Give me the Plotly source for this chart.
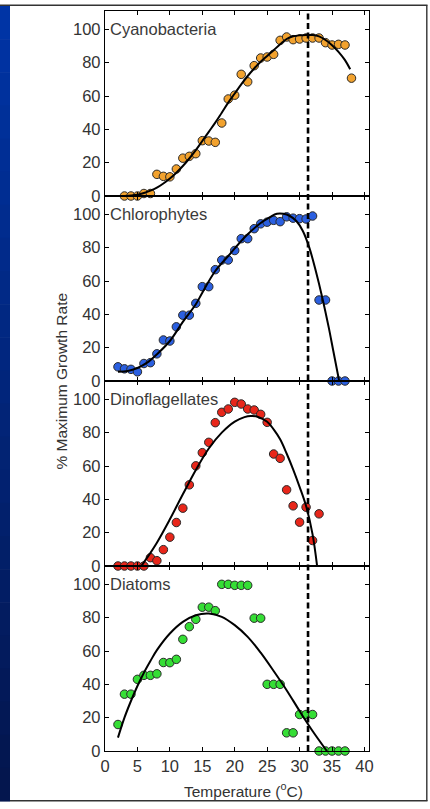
import plotly.graph_objects as go
from plotly.subplots import make_subplots

# ---------------- data ----------------
panel_names = ["Cyanobacteria", "Chlorophytes", "Dinoflagellates", "Diatoms"]

cyano_T = [3, 4, 5, 6, 7, 8, 9, 10, 11, 12, 13, 14, 15, 16, 17, 18, 19, 20, 21, 22,
           23, 24, 25, 26, 27, 28, 29, 30, 31, 32, 33, 34, 35, 36, 37, 38]
cyano_v = [0, 0, 0, 1.5, 1.5, 13, 11.8, 11.5, 16.2, 22.7, 23.8, 25.4, 33.2, 33, 32.2,
           43.8, 58.2, 60.5, 73, 68.5, 78.2, 82.8, 83.4, 85, 93.4, 95.4, 93.8, 94.2,
           94.8, 94.8, 94.8, 92, 90.6, 91, 90.6, 70.7]
cyano_fit_T = [3, 4, 5, 6, 7, 8, 9, 10, 11, 12, 13, 14, 15, 16, 17, 18, 19, 20, 21, 22,
               23, 24, 25, 26, 27, 28, 29, 30, 31, 32, 33, 34, 35, 36, 37, 37.8]
cyano_fit_v = [0, 0.3, 0.8, 1.8, 3.2, 5, 7.5, 10.5, 14, 18, 22.5, 27.5, 33, 38.5, 44,
               50, 56, 61.5, 67, 72, 76.5, 80.5, 84, 87.5, 91, 94.2, 95.8, 96.4, 96.6,
               96.6, 95.8, 93.6, 90.5, 86.5, 81.5, 76]

chloro_T = [2, 3, 4, 5, 6, 7, 8, 9, 10, 11, 12, 13, 14, 15, 16, 17, 18, 19, 20, 21,
            22, 23, 24, 25, 26, 27, 28, 29, 30, 31, 32, 33, 34, 35, 36, 37]
chloro_v = [8.5, 7.3, 7, 5.5, 10.5, 11, 16.3, 24.6, 24, 32.5, 39.5, 39.5, 46.6, 56.6,
            56.6, 66.8, 72.6, 72.6, 78.3, 85.4, 85.4, 91.4, 94.3, 95.3, 96.4, 95.6,
            98.5, 97.7, 97.4, 97.2, 99, 48.6, 48.6, 0, 0, 0]
chloro_fit_T = [2, 3.5, 5, 6.5, 8, 10, 12, 14, 15, 17, 19, 20, 22, 24, 25.5, 26.5,
                27.5, 28.5, 29.5, 30.5, 31.5, 32.5, 33.5, 34.5, 35.2, 36.1]
chloro_fit_v = [5.5, 6, 7.8, 11, 16, 24, 35.5, 46, 53, 66, 75, 79.6, 88, 94.8, 98.5,
                100.3, 100.3, 99, 96, 90, 80, 66, 50, 32, 18, 0]

dino_T = [2, 3, 4, 5, 6, 7, 8, 9, 10, 11, 12, 13, 14, 15, 16, 17, 18, 19, 20, 21,
          22, 23, 24, 25, 26, 27, 28, 29, 30, 31, 32, 33]
dino_v = [0, 0, 0, 0, 0, 5, 3.2, 9.8, 17.3, 26.1, 34.7, 48.7, 60.1, 68, 74.2, 86,
          92.2, 94.2, 98.2, 97.2, 94.2, 93.6, 91, 86.2, 67.2, 64.6, 45.7, 36.1, 26.3,
          35.3, 15.3, 31.3]
dino_fit_T = [5.6, 6.5, 8, 10, 12, 14, 16, 18, 20, 21.5, 22.5, 23.5, 25, 26, 27, 28,
              29, 30, 31, 32, 32.7]
dino_fit_v = [0, 5, 14, 28, 43, 57.6, 70.5, 80, 86.6, 89.3, 90, 89.6, 86.5, 82, 76,
              67.5, 58, 47.5, 36, 19, 0]

diatom_T = [2, 3, 4, 5, 6, 7, 8, 9, 10, 11, 12, 13, 14, 15, 16, 17, 18, 19, 20, 21,
            22, 23, 24, 25, 26, 27, 28, 29, 30, 31, 32, 33, 34, 35, 36, 37]
diatom_v = [15.9, 34.1, 34.1, 43, 45.4, 45.4, 46.3, 53.1, 53, 55, 67, 74.6, 79, 86.3,
            86.3, 84.2, 100, 100, 99.4, 99.4, 99.4, 79.7, 79.7, 40, 40, 40, 10.9, 10.9,
            21.9, 21.9, 21.9, 0, 0, 0, 0, 0]
diatom_fit_T = [2, 3, 4, 5, 6, 7, 8, 10, 12, 14, 16, 18, 20, 22, 24, 26, 28, 30, 32,
                34.2]
diatom_fit_v = [8, 20, 30, 39, 47, 54, 60.5, 70.5, 77.5, 81.5, 82.5, 80.5, 75.5, 68.5,
                59, 48, 36.5, 24, 12, 0]

threshold_T = 31.3          # dashed vertical reference line
x_ticks = [0, 5, 10, 15, 20, 25, 30, 35, 40]
y_ticks = [0, 20, 40, 60, 80, 100]

# ---------------- style ----------------
W, H = 430, 809
ML, MR, MT, MB = 105, 61, 11, 58
colors = ["#F2A22E", "#2A5FE0", "#E8261A", "#35DE35"]
FONT = "Liberation Sans, Arial, sans-serif"
TXT = "#333333"

series = [
    (cyano_T, cyano_v, cyano_fit_T, cyano_fit_v),
    (chloro_T, chloro_v, chloro_fit_T, chloro_fit_v),
    (dino_T, dino_v, dino_fit_T, dino_fit_v),
    (diatom_T, diatom_v, diatom_fit_T, diatom_fit_v),
]

fig = make_subplots(rows=4, cols=1, shared_xaxes=True, vertical_spacing=0)

for i, (tx, vy, fx, fy) in enumerate(series):
    r = i + 1
    fig.add_trace(go.Scatter(
        x=tx, y=vy, mode="markers", cliponaxis=False, showlegend=False,
        marker=dict(size=8.5, color=colors[i], line=dict(color="#2a2a2a", width=1))),
        row=r, col=1)
    fig.add_trace(go.Scatter(
        x=fx, y=fy, mode="lines", showlegend=False,
        line=dict(color="black", width=2, shape="spline")),
        row=r, col=1)
    fig.add_annotation(x=0.5, y=100, xref=f"x{'' if r == 1 else r}",
                       yref=f"y{'' if r == 1 else r}", text=panel_names[i],
                       showarrow=False, xanchor="left", yanchor="middle",
                       font=dict(family=FONT, size=16.5, color="#3a3a3a"))

fig.update_xaxes(range=[0, 40.7], tickvals=x_ticks, ticks="inside", ticklen=4,
                 tickwidth=1, tickcolor="black", mirror="allticks", showline=True,
                 linecolor="black", linewidth=1.3, showgrid=False, zeroline=False,
                 tickfont=dict(family=FONT, size=16.5, color=TXT))
fig.update_yaxes(range=[0, 111], tickvals=y_ticks, ticks="inside", ticklen=4,
                 tickwidth=1, tickcolor="black", mirror="allticks", showline=True,
                 linecolor="black", linewidth=1.3, showgrid=False, zeroline=False,
                 tickfont=dict(family=FONT, size=16.5, color=TXT))

# dashed reference line over all panels
fig.add_shape(type="line", xref="x", yref="paper", x0=threshold_T, x1=threshold_T,
              y0=0, y1=1, line=dict(color="black", width=2.6, dash="6px,3.5px"))

# ---------- frame (slide background) in pixel -> paper coords ----------
PW, PH = W - ML - MR, H - MT - MB
def px(x):
    return (x - ML) / PW
def py(y):
    return (H - MB - y) / PH

n_strips = 24
top, bot = 6, 801
c0, c1 = (0, 52, 165), (4, 22, 78)
for k in range(n_strips):
    f = k / (n_strips - 1)
    c = tuple(int(c0[j] + (c1[j] - c0[j]) * f) for j in range(3))
    ya = top + (bot - top) * k / n_strips
    yb = top + (bot - top) * (k + 1) / n_strips
    fig.add_shape(type="rect", xref="paper", yref="paper", layer="below",
                  x0=px(0), x1=px(10), y0=py(ya), y1=py(yb + 0.6),
                  fillcolor=f"rgb{c}", line=dict(width=0))
fig.add_shape(type="line", xref="paper", yref="paper", x0=px(0), x1=px(427.5),
              y0=py(5.2), y1=py(5.2), line=dict(color="#333333", width=1.6))
fig.add_shape(type="line", xref="paper", yref="paper", x0=px(426.8), x1=px(426.8),
              y0=py(5.2), y1=py(801), line=dict(color="#333333", width=1.4))
fig.add_shape(type="line", xref="paper", yref="paper", x0=px(10), x1=px(427.5),
              y0=py(800.8), y1=py(800.8), line=dict(color="#333333", width=1.4))

# axis titles
fig.add_annotation(x=px(60.5), y=py(381), xref="paper", yref="paper",
                   text="% Maximum Growth Rate", textangle=-90, showarrow=False,
                   xanchor="center", yanchor="middle",
                   font=dict(family=FONT, size=15.5, color=TXT))
fig.add_annotation(x=px(243), y=py(790), xref="paper", yref="paper",
                   text="Temperature (<sup>o</sup>C)", showarrow=False,
                   xanchor="center", yanchor="middle",
                   font=dict(family=FONT, size=15.5, color=TXT))

fig.update_layout(width=W, height=H, margin=dict(l=ML, r=MR, t=MT, b=MB),
                  paper_bgcolor="white", plot_bgcolor="white", showlegend=False)

fig.write_html("out.html", config={"displayModeBar": False},
               post_script="document.body.style.margin='0';"
                           "document.body.style.padding='0';"
                           "document.body.style.overflow='hidden';")
